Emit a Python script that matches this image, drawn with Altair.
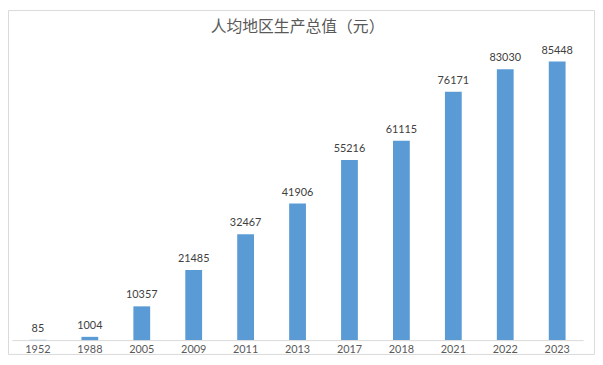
import altair as alt
import pandas as pd

years = ["1952", "1988", "2005", "2009", "2011", "2013", "2017", "2018", "2021", "2022", "2023"]
values = [85, 1004, 10357, 21485, 32467, 41906, 55216, 61115, 76171, 83030, 85448]
title_text = "人均地区生产总值（元）"

df = pd.DataFrame({"year": years, "value": values})
tdf = pd.DataFrame({"t": [title_text]})

W, H = 578, 297

x_enc = alt.X("year:N", sort=years, title=None,
              scale=alt.Scale(paddingInner=0, paddingOuter=0),
              axis=alt.Axis(labelAngle=0, ticks=False, domainColor="#d9d9d9",
                            labelColor="#595959", labelFont="Lato", labelFontSize=11,
                            labelPadding=4, grid=False))
y_enc = alt.Y("value:Q", title=None, scale=alt.Scale(domain=[0, 90000], nice=False),
              axis=None)

bars = alt.Chart(df).mark_bar(size=17, color="#5B9BD5").encode(x=x_enc, y=y_enc)
labels = alt.Chart(df).mark_text(baseline="bottom", dy=-6, font="Lato", fontSize=11,
                                 color="#404040").encode(x=x_enc, y=y_enc, text="value:Q")

title = alt.Chart(tdf).mark_text(font="Noto Sans CJK SC", fontSize=16, color="#595959",
                                 baseline="middle", align="center").encode(
    x=alt.value(W / 2), y=alt.value(-20), text="t:N")

border = alt.Chart(tdf).mark_rect(fill=None, stroke="#d9d9d9", strokeWidth=1).encode(
    x=alt.value(-3.5), x2=alt.value(589.5), y=alt.value(-36.5), y2=alt.value(311.5))

chart = alt.layer(bars, labels, title, border).properties(
    width=W, height=H,
    padding={"left": 0, "top": 0, "right": 0, "bottom": 0},
).configure_view(stroke=None)

chart.save("out.html", embed_options={"renderer": "svg", "actions": False})
